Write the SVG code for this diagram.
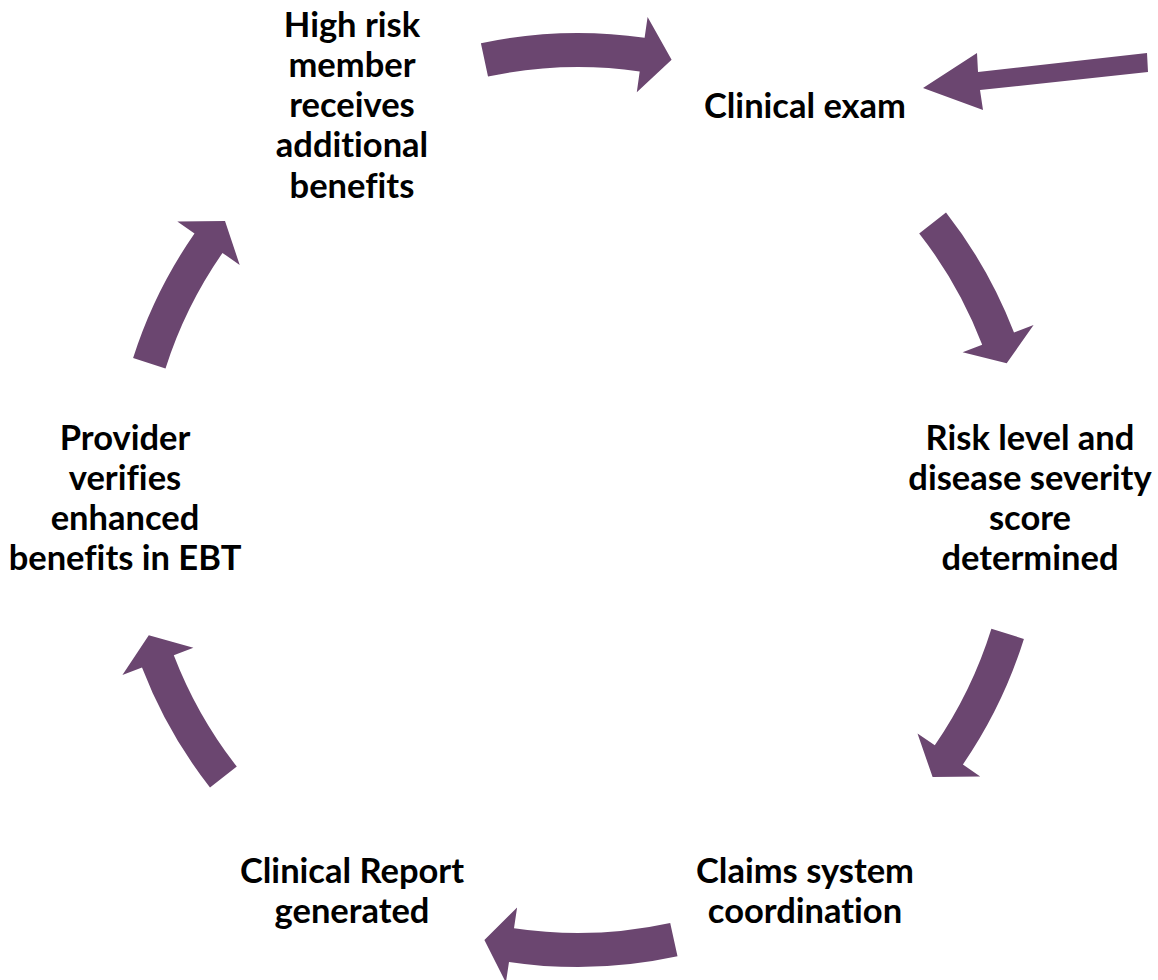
<svg xmlns="http://www.w3.org/2000/svg" width="1158" height="980" viewBox="0 0 1158 980">
<style>
.lbl{font-family:Lato,"Liberation Sans",sans-serif;font-weight:bold;font-size:34.5px;fill:#000;text-anchor:middle;font-variant-ligatures:none;font-feature-settings:"liga" 0,"clig" 0}
.arr{fill:#6b4670;stroke:none}
</style>
<rect width="1158" height="980" fill="#fff"/>
<g id="connectors">
<path class="arr" d="M480.9,43.2 A467,467 0 0 1 644.6,37.8 L647.6,17 L671.6,59.8 L636.8,92.2 L639.7,71.4 A433,433 0 0 0 488,76.5 Z"/>
<path class="arr" d="M946,212.5 A467,467 0 0 1 1014,332.6 L1033.6,325.1 L1006.7,363.2 L962.6,352.3 L982.2,344.8 A433,433 0 0 0 919.2,233.4 Z"/>
<path class="arr" d="M1023.9,638.9 A467,467 0 0 1 962.9,764.5 L980.2,776.4 L932.6,777.1 L917.5,733.4 L934.8,745.3 A433,433 0 0 0 991.4,628.8 Z"/>
<path class="arr" d="M677.5,956.3 A467,467 0 0 1 509,961.9 L505.9,982.6 L484.4,940.1 L517.1,907.5 L514,928.2 A433,433 0 0 0 670.2,923 Z"/>
<path class="arr" d="M210,787.5 A467,467 0 0 1 142,667.4 L122.4,674.9 L148.8,635.3 L193.4,647.7 L173.8,655.2 A433,433 0 0 0 236.8,766.6 Z"/>
<path class="arr" d="M133.1,358 A467,467 0 0 1 194.5,233.5 L177.3,221.5 L225,221.1 L239.7,264.9 L222.5,252.9 A433,433 0 0 0 165.5,368.4 Z"/>
<path class="arr" d="M1147,53 L1148,72 L980,90 L983,110 L923,88 L977,53 L978,72 Z"/>
</g>
<g id="n1"><text class="lbl"><tspan x="352" y="37">High risk</tspan><tspan x="352" y="77">member</tspan><tspan x="352" y="117">receives</tspan><tspan x="352" y="157">additional</tspan><tspan x="352" y="198">benefits</tspan></text></g>
<g id="n2"><text class="lbl" x="805" y="118">Clinical exam</text></g>
<g id="n3"><text class="lbl"><tspan x="1030" y="450">Risk level and</tspan><tspan x="1030" y="490">disease severity</tspan><tspan x="1030" y="530">score</tspan><tspan x="1030" y="570">determined</tspan></text></g>
<g id="n4"><text class="lbl"><tspan x="805" y="883">Claims system</tspan><tspan x="805" y="923">coordination</tspan></text></g>
<g id="n5"><text class="lbl"><tspan x="352" y="883">Clinical Report</tspan><tspan x="352" y="923">generated</tspan></text></g>
<g id="n6"><text class="lbl"><tspan x="125" y="450">Provider</tspan><tspan x="125" y="490">verifies</tspan><tspan x="125" y="530">enhanced</tspan><tspan x="125" y="570">benefits in EBT</tspan></text></g>
</svg>
